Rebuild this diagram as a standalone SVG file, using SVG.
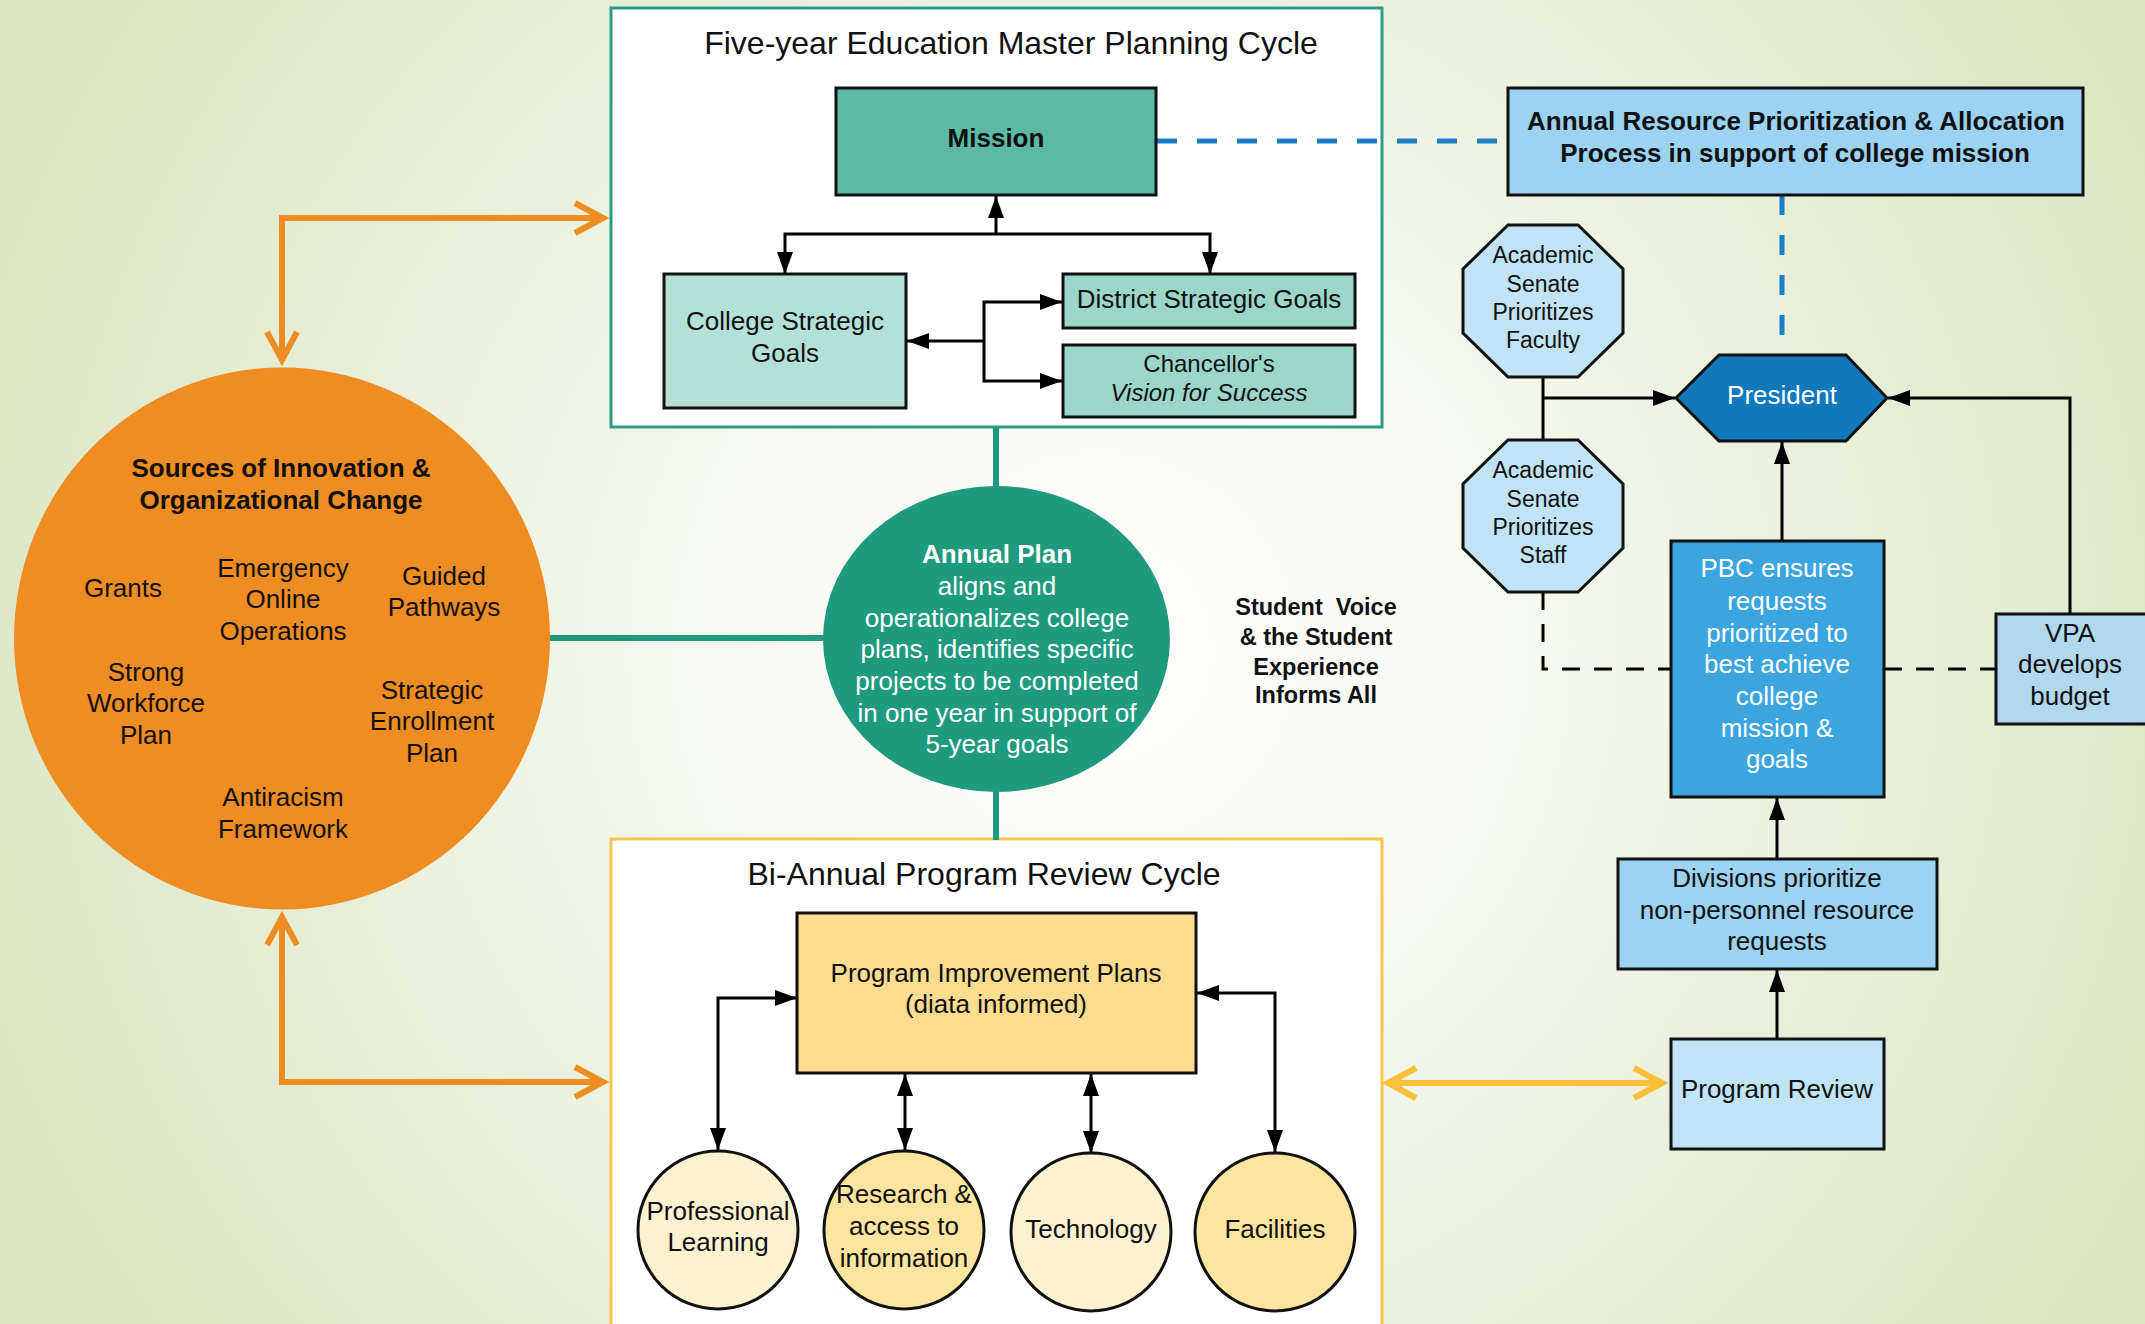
<svg xmlns="http://www.w3.org/2000/svg" width="2145" height="1324" viewBox="0 0 2145 1324">
<defs>
  <radialGradient id="bg" gradientUnits="userSpaceOnUse" cx="1100" cy="650" r="1200">
    <stop offset="0" stop-color="#ffffff"/>
    <stop offset="0.35" stop-color="#f5f8ee"/>
    <stop offset="1" stop-color="#dae5c1"/>
  </radialGradient>
  <marker id="tri" markerUnits="userSpaceOnUse" viewBox="-24 -10 26 20" refX="0" refY="0" markerWidth="26" markerHeight="20" orient="auto-start-reverse">
    <path d="M0,0 L-22,-8 L-22,8 Z" fill="#000"/>
  </marker>
  <marker id="chevO" markerUnits="userSpaceOnUse" viewBox="-40 -22 52 44" refX="0" refY="0" markerWidth="52" markerHeight="44" orient="auto-start-reverse">
    <path d="M-28,-15 L0,0 L-28,15" fill="none" stroke="#ef8c22" stroke-width="6"/>
  </marker>
  <marker id="chevY" markerUnits="userSpaceOnUse" viewBox="-40 -22 52 44" refX="0" refY="0" markerWidth="52" markerHeight="44" orient="auto-start-reverse">
    <path d="M-28,-15 L0,0 L-28,15" fill="none" stroke="#fbbf3a" stroke-width="6"/>
  </marker>
  <style>
    text { font-family: "Liberation Sans", Arial, sans-serif; fill: #111; text-anchor: middle; }
    .t26 { font-size: 26px; }
    .t24 { font-size: 24px; }
    .t23 { font-size: 23px; }
    .title { font-size: 32px; }
    .b { font-weight: bold; }
    .w { fill: #ffffff; }
    .box { stroke: #111; stroke-width: 3; }
    .ln { fill: none; stroke: #000; stroke-width: 3; }
    .dash { fill: none; stroke: #000; stroke-width: 3; stroke-dasharray: 18 14; }
    .bdash { fill: none; stroke: #1a7fc4; stroke-width: 5; stroke-dasharray: 20 20; }
    .teal { fill: none; stroke: #1e9a7f; stroke-width: 6; }
    .orange { fill: none; stroke: #ef8c22; stroke-width: 6; }
    .yellow { fill: none; stroke: #fbbf3a; stroke-width: 6; }
  </style>
</defs>

<rect x="0" y="0" width="2145" height="1324" fill="url(#bg)"/>

<!-- containers -->
<g id="five-year-cycle">
  <rect x="611" y="8" width="771" height="419" fill="#ffffff" stroke="#2a9d84" stroke-width="3"/>
  <text class="title" x="1011" y="54">Five-year Education Master Planning Cycle</text>
</g>
<g id="program-review-cycle">
  <rect x="611" y="839" width="771" height="500" fill="#ffffff" stroke="#f7c548" stroke-width="3"/>
  <text class="title" x="984" y="885">Bi-Annual Program Review Cycle</text>
</g>

<!-- connectors -->
<g id="connectors">
  <!-- teal -->
  <path class="teal" d="M996,427 V488"/>
  <path class="teal" d="M996,790 V840"/>
  <path class="teal" d="M548,638 H825"/>
  <!-- orange -->
  <path class="orange" d="M282,360 V218 H603" marker-start="url(#chevO)" marker-end="url(#chevO)"/>
  <path class="orange" d="M282,917 V1082 H603" marker-start="url(#chevO)" marker-end="url(#chevO)"/>
  <!-- yellow -->
  <path class="yellow" d="M1388,1083 H1662" marker-start="url(#chevY)" marker-end="url(#chevY)"/>
  <!-- top box -->
  <path class="ln" d="M996,234 V196" marker-end="url(#tri)"/>
  <path class="ln" d="M785,274 V234 H1210 V274" marker-start="url(#tri)" marker-end="url(#tri)"/>
  <path class="ln" d="M984,341 H907" marker-end="url(#tri)"/>
  <path class="ln" d="M1062,302 H984 V381 H1062" marker-start="url(#tri)" marker-end="url(#tri)"/>
  <!-- bottom box -->
  <path class="ln" d="M797,998 H718 V1150" marker-start="url(#tri)" marker-end="url(#tri)"/>
  <path class="ln" d="M905,1074 V1150" marker-start="url(#tri)" marker-end="url(#tri)"/>
  <path class="ln" d="M1091,1074 V1153" marker-start="url(#tri)" marker-end="url(#tri)"/>
  <path class="ln" d="M1197,993 H1275 V1152" marker-start="url(#tri)" marker-end="url(#tri)"/>
  <!-- blue dashed -->
  <path class="bdash" d="M1157,141 H1508"/>
  <path class="bdash" d="M1782,195 V355"/>
  <!-- right side -->
  <path class="ln" d="M1543,377 V440"/>
  <path class="ln" d="M1543,398 H1675" marker-end="url(#tri)"/>
  <path class="dash" d="M1543,592 V669 H1671"/>
  <path class="dash" d="M1884,669 H1996"/>
  <path class="ln" d="M2070,614 V398 H1888" marker-end="url(#tri)"/>
  <path class="ln" d="M1782,541 V442" marker-end="url(#tri)"/>
  <path class="ln" d="M1777,859 V798" marker-end="url(#tri)"/>
  <path class="ln" d="M1777,1039 V970" marker-end="url(#tri)"/>
</g>

<!-- nodes -->
<g id="mission">
  <rect class="box" x="836" y="88" width="320" height="107" fill="#5cb9a5"/>
  <text class="t26 b" x="996" y="147">Mission</text>
</g>
<g id="college-strategic-goals">
  <rect class="box" x="664" y="274" width="242" height="134" fill="#b3e0d7"/>
  <text class="t26" x="785" y="330">College Strategic</text>
  <text class="t26" x="785" y="362">Goals</text>
</g>
<g id="district-strategic-goals">
  <rect class="box" x="1063" y="274" width="292" height="54" fill="#9bd6c9"/>
  <text class="t26" x="1209" y="308">District Strategic Goals</text>
</g>
<g id="chancellors-vision">
  <rect class="box" x="1063" y="345" width="292" height="72" fill="#9bd6c9"/>
  <text class="t24" x="1209" y="372">Chancellor's</text>
  <text class="t24" x="1209" y="401" font-style="italic">Vision for Success</text>
</g>

<g id="sources-of-innovation">
  <ellipse cx="282" cy="638.5" rx="268" ry="271" fill="#ef8c22"/>
  <text class="t26 b" x="281" y="477">Sources of Innovation &amp;</text>
  <text class="t26 b" x="281" y="509">Organizational Change</text>
  <text class="t26" x="123" y="597">Grants</text>
  <text class="t26" x="283" y="577">Emergency</text>
  <text class="t26" x="283" y="608">Online</text>
  <text class="t26" x="283" y="640">Operations</text>
  <text class="t26" x="444" y="585">Guided</text>
  <text class="t26" x="444" y="616">Pathways</text>
  <text class="t26" x="146" y="681">Strong</text>
  <text class="t26" x="146" y="712">Workforce</text>
  <text class="t26" x="146" y="744">Plan</text>
  <text class="t26" x="432" y="699">Strategic</text>
  <text class="t26" x="432" y="730">Enrollment</text>
  <text class="t26" x="432" y="762">Plan</text>
  <text class="t26" x="283" y="806">Antiracism</text>
  <text class="t26" x="283" y="838">Framework</text>
</g>

<g id="annual-plan">
  <ellipse cx="996.5" cy="639" rx="173.5" ry="153" fill="#1e9a7f"/>
  <text class="t26 b w" x="997" y="563">Annual Plan</text>
  <text class="t26 w" x="997" y="595">aligns and</text>
  <text class="t26 w" x="997" y="627">operationalizes college</text>
  <text class="t26 w" x="997" y="658">plans, identifies specific</text>
  <text class="t26 w" x="997" y="690">projects to be completed</text>
  <text class="t26 w" x="997" y="722">in one year in support of</text>
  <text class="t26 w" x="997" y="753">5-year goals</text>
</g>

<g id="student-voice">
  <text class="b" font-size="23.5" x="1316" y="615" style="white-space:pre">Student  Voice</text>
  <text class="b" font-size="23.5" x="1316" y="645">&amp; the Student</text>
  <text class="b" font-size="23.5" x="1316" y="675">Experience</text>
  <text class="b" font-size="23.5" x="1316" y="703">Informs All</text>
</g>

<g id="program-improvement-plans">
  <rect class="box" x="797" y="913" width="399" height="160" fill="#fcdc8e"/>
  <text class="t26" x="996" y="982">Program Improvement Plans</text>
  <text class="t26" x="996" y="1013">(diata informed)</text>
</g>
<g id="professional-learning">
  <ellipse class="box" cx="718" cy="1230" rx="80" ry="79" fill="#fdf2cf"/>
  <text class="t26" x="718" y="1220">Professional</text>
  <text class="t26" x="718" y="1251">Learning</text>
</g>
<g id="research-access">
  <ellipse class="box" cx="904" cy="1230" rx="80" ry="79" fill="#fde59f"/>
  <text class="t26" x="904" y="1203">Research &amp;</text>
  <text class="t26" x="904" y="1235">access to</text>
  <text class="t26" x="904" y="1267">information</text>
</g>
<g id="technology">
  <ellipse class="box" cx="1091" cy="1232" rx="80" ry="79" fill="#fdf2cf"/>
  <text class="t26" x="1091" y="1238">Technology</text>
</g>
<g id="facilities">
  <ellipse class="box" cx="1275" cy="1232" rx="80" ry="79" fill="#fde59f"/>
  <text class="t26" x="1275" y="1238">Facilities</text>
</g>

<g id="annual-resource">
  <rect class="box" x="1508" y="88" width="575" height="107" fill="#9cd2f2"/>
  <text class="t26 b" x="1796" y="130">Annual Resource Prioritization &amp; Allocation</text>
  <text class="t26 b" x="1795" y="162">Process in support of college mission</text>
</g>
<g id="senate-faculty">
  <polygon class="box" points="1508,225 1578,225 1623,269 1623,333 1578,377 1508,377 1463,333 1463,269" fill="#c0e3f6"/>
  <text class="t23" x="1543" y="263">Academic</text>
  <text class="t23" x="1543" y="292">Senate</text>
  <text class="t23" x="1543" y="320">Prioritizes</text>
  <text class="t23" x="1543" y="348">Faculty</text>
</g>
<g id="president">
  <polygon class="box" points="1719,355 1846,355 1887,398 1846,441 1719,441 1676,398" fill="#0f79bb"/>
  <text class="t26 w" x="1782" y="404">President</text>
</g>
<g id="senate-staff">
  <polygon class="box" points="1508,440 1578,440 1623,484 1623,548 1578,592 1508,592 1463,548 1463,484" fill="#c0e3f6"/>
  <text class="t23" x="1543" y="478">Academic</text>
  <text class="t23" x="1543" y="507">Senate</text>
  <text class="t23" x="1543" y="535">Prioritizes</text>
  <text class="t23" x="1543" y="563">Staff</text>
</g>
<g id="pbc">
  <rect class="box" x="1671" y="541" width="213" height="256" fill="#3aa5df"/>
  <text class="t26 w" x="1777" y="577">PBC ensures</text>
  <text class="t26 w" x="1777" y="610">requests</text>
  <text class="t26 w" x="1777" y="642">prioritized to</text>
  <text class="t26 w" x="1777" y="673">best achieve</text>
  <text class="t26 w" x="1777" y="705">college</text>
  <text class="t26 w" x="1777" y="737">mission &amp;</text>
  <text class="t26 w" x="1777" y="768">goals</text>
</g>
<g id="vpa">
  <rect class="box" x="1996" y="614" width="160" height="110" fill="#b2d8f0"/>
  <text class="t26" x="2070" y="642">VPA</text>
  <text class="t26" x="2070" y="673">develops</text>
  <text class="t26" x="2070" y="705">budget</text>
</g>
<g id="divisions">
  <rect class="box" x="1618" y="859" width="319" height="110" fill="#9cd2f2"/>
  <text class="t26" x="1777" y="887">Divisions prioritize</text>
  <text class="t26" x="1777" y="919">non-personnel resource</text>
  <text class="t26" x="1777" y="950">requests</text>
</g>
<g id="program-review">
  <rect class="box" x="1671" y="1039" width="213" height="110" fill="#c0e3f6"/>
  <text class="t26" x="1777" y="1098">Program Review</text>
</g>
</svg>
